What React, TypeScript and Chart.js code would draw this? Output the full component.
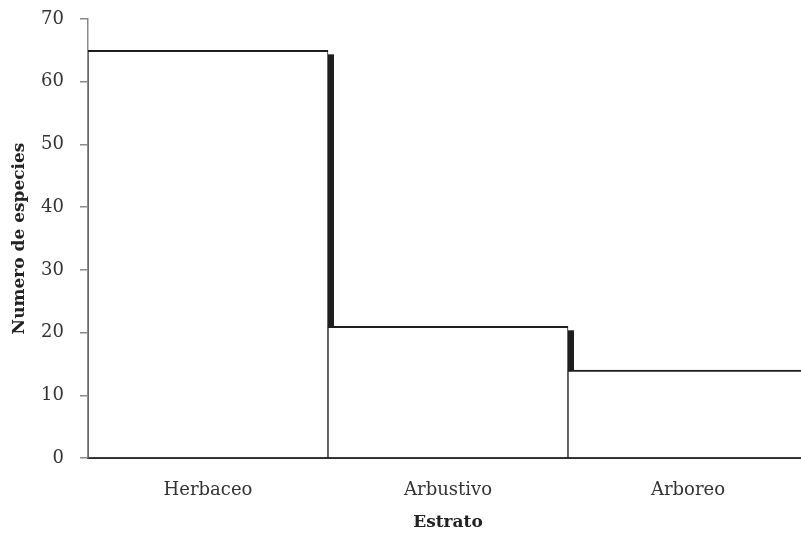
import React, { useEffect, useRef } from "react";
import { Chart, registerables } from "chart.js";

Chart.register(...registerables);

const categories = ["Herbaceo", "Arbustivo", "Arboreo"];
const speciesCounts = [65, 21, 14];
const yTicks = [0, 10, 20, 30, 40, 50, 60, 70];
const xTitle = "Estrato";
const yTitle = "Numero de especies";

const FONT = "'DejaVu Serif', serif";

const shadowPlugin = {
  id: "barShadow",
  beforeDatasetsDraw(chart: any) {
    const { ctx, chartArea } = chart;
    const meta = chart.getDatasetMeta(0);
    ctx.save();
    ctx.beginPath();
    ctx.rect(chartArea.left, chartArea.top - 10, chartArea.right - chartArea.left + 20, chartArea.bottom - chartArea.top + 10);
    ctx.clip();
    ctx.fillStyle = "#1e1e1e";
    meta.data.forEach((bar: any) => {
      const left = bar.x - bar.width / 2;
      const right = bar.x + bar.width / 2;
      const top = Math.min(bar.y, bar.base);
      const bottom = Math.max(bar.y, bar.base);
      ctx.fillRect(left + 5, top + 4, right - left + 1, bottom - top);
    });
    ctx.restore();
  },
};

export default function App() {
  const ref = useRef<HTMLCanvasElement>(null);
  useEffect(() => {
    if (!ref.current) return;
    const chart = new Chart(ref.current, {
      type: "bar",
      data: {
        labels: categories,
        datasets: [
          {
            data: speciesCounts,
            backgroundColor: "#ffffff",
            borderColor: "#1e1e1e",
            borderWidth: { top: 2, left: 1, right: 1, bottom: 0 } as any,
            borderSkipped: false,
            barPercentage: 1,
            categoryPercentage: 1,
          },
        ],
      },
      options: {
        animation: false,
        responsive: true,
        maintainAspectRatio: false,
        layout: { padding: { top: 19, left: 0, right: 0, bottom: 0 } },
        plugins: { legend: { display: false }, tooltip: { enabled: false } },
        scales: {
          x: {
            grid: { display: false, drawTicks: false },
            border: { display: true, color: "#2a2a2a", width: 2 },
            ticks: {
              padding: 22,
              color: "#333333",
              font: { family: FONT, size: 18 },
            },
            title: {
              display: true,
              text: xTitle,
              color: "#222222",
              font: { family: FONT, size: 17, weight: "bold" },
              padding: { top: 4, bottom: 0 },
            },
            afterFit: (scale: any) => {
              scale.height = 75;
              scale.paddingLeft = 0;
              scale.paddingRight = 0;
            },
          },
          y: {
            min: 0,
            max: 70,
            afterBuildTicks: (scale: any) => {
              scale.ticks = yTicks.map((v) => ({ value: v }));
            },
            grid: {
              display: true,
              drawOnChartArea: false,
              drawTicks: true,
              tickLength: 8,
              color: "#8a8a8a",
              lineWidth: 1.5,
            },
            border: { display: true, color: "#8a8a8a", width: 1.5 },
            ticks: {
              padding: 16,
              color: "#333333",
              font: { family: FONT, size: 18 },
            },
            title: {
              display: true,
              text: yTitle,
              color: "#222222",
              font: { family: FONT, size: 17, weight: "bold" },
              padding: { top: 9, bottom: 0 },
            },
            afterFit: (scale: any) => {
              scale.width = 88;
              scale.paddingTop = 0;
              scale.paddingBottom = 0;
            },
          },
        },
      },
      plugins: [shadowPlugin],
    });
    return () => chart.destroy();
  }, []);
  return (
    <div style={{ position: "fixed", left: 0, top: 0, width: 801, height: 533, overflow: "hidden", background: "#fff" }}>
      <div style={{ position: "relative", width: 808, height: 533 }}>
        <canvas ref={ref} />
      </div>
    </div>
  );
}
